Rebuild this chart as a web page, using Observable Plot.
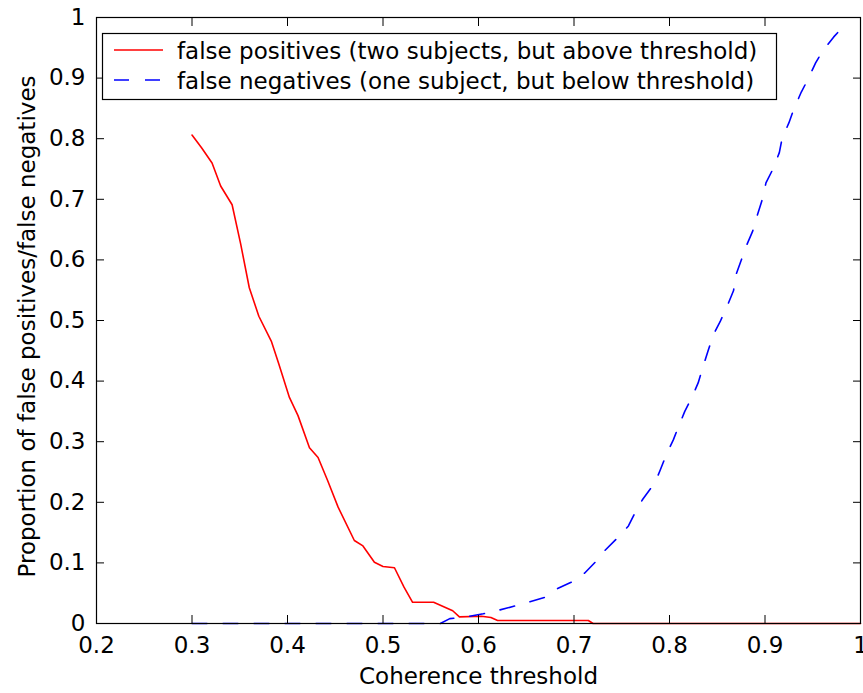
<!DOCTYPE html>
<html>
<head>
<meta charset="utf-8">
<script src="https://cdn.jsdelivr.net/npm/d3@7"></script>
<script src="https://cdn.jsdelivr.net/npm/@observablehq/plot@0.6"></script>
<style>
  html, body { margin: 0; padding: 0; background: #fff; }
  #chart { position: relative; width: 863px; height: 693px; }
</style>
</head>
<body>
<div id="chart"></div>
<script>
// Data
const fpX = [0.300,0.310,0.321,0.330,0.342,0.351,0.360,0.370,0.383,0.391,0.402,0.411,0.423,0.432,0.442,0.453,0.470,0.479,0.491,0.500,0.512,0.522,0.531,0.553,0.573,0.580,0.603,0.613,0.620,0.715,0.720,1.000];
const fpY = [0.806,0.785,0.760,0.722,0.691,0.626,0.554,0.507,0.466,0.428,0.373,0.343,0.290,0.274,0.236,0.192,0.137,0.128,0.101,0.094,0.092,0.060,0.035,0.035,0.021,0.011,0.012,0.010,0.005,0.005,0.000,0.000];
const fnX = [0.300,0.560,0.570,0.587,0.605,0.619,0.636,0.652,0.669,0.682,0.697,0.711,0.724,0.732,0.746,0.757,0.765,0.772,0.785,0.790,0.797,0.804,0.810,0.816,0.824,0.830,0.836,0.840,0.846,0.853,0.861,0.867,0.870,0.875,0.881,0.887,0.892,0.897,0.901,0.908,0.915,0.918,0.925,0.930,0.938,0.944,0.953,0.960,0.972,0.983];
const fnY = [0,0,0.008,0.011,0.016,0.021,0.028,0.035,0.043,0.057,0.068,0.083,0.104,0.120,0.142,0.161,0.186,0.205,0.233,0.252,0.280,0.303,0.327,0.350,0.375,0.397,0.428,0.448,0.477,0.498,0.526,0.549,0.577,0.599,0.625,0.647,0.674,0.699,0.727,0.749,0.777,0.801,0.826,0.848,0.877,0.895,0.925,0.944,0.968,0.987];
const xTicks = [0.2,0.3,0.4,0.5,0.6,0.7,0.8,0.9,1];
const yTicks = [0,0.1,0.2,0.3,0.4,0.5,0.6,0.7,0.8,0.9,1];
const seriesNames = ["false positives (two subjects, but above threshold)", "false negatives (one subject, but below threshold)"];
const xLabel = "Coherence threshold";
const yLabel = "Proportion of false positives/false negatives";

const fp = fpX.map((x, i) => ({x, y: fpY[i]}));
const fn = fnX.map((x, i) => ({x, y: fnY[i]}));
const fmt = d => String(d);
const dash = "15,16";

const plot = Plot.plot({
  width: 863,
  height: 693,
  marginLeft: 96,
  marginRight: 3,
  marginTop: 17,
  marginBottom: 70,
  style: {fontFamily: "'DejaVu Sans', sans-serif", fontSize: "23px", background: "#fff", color: "#000"},
  x: {domain: [0.2, 1]},
  y: {domain: [0, 1]},
  marks: [
    Plot.line(fp, {x: "x", y: "y", stroke: "#ff0000", strokeWidth: 1.6}),
    Plot.line(fn, {x: "x", y: "y", stroke: "#0000ff", strokeWidth: 1.6, strokeDasharray: dash}),
    Plot.frame({stroke: "#000", strokeWidth: 1.2}),
    // labels
    Plot.axisX({anchor: "bottom", ticks: xTicks, tickSize: 0, tickPadding: 13, tickFormat: fmt, label: null}),
    Plot.axisY({anchor: "left", ticks: yTicks, tickSize: 0, tickPadding: 11, tickFormat: fmt, label: null}),
    // inward ticks on all four sides
    Plot.axisX({anchor: "bottom", ticks: xTicks, tickSize: 8, dy: -8, tickFormat: () => "", label: null}),
    Plot.axisX({anchor: "top", ticks: xTicks, tickSize: 8, dy: 8, tickFormat: () => "", label: null}),
    Plot.axisY({anchor: "left", ticks: yTicks, tickSize: 8, dx: 8, tickFormat: () => "", label: null}),
    Plot.axisY({anchor: "right", ticks: yTicks, tickSize: 8, dx: -8, tickFormat: () => "", label: null}),
    Plot.text([xLabel], {frameAnchor: "bottom", dy: 60, text: d => d, fill: "#000", fontSize: 23, textAnchor: "middle"}),
    Plot.text([yLabel], {frameAnchor: "left", rotate: -90, dx: -69, dy: 6, text: d => d, fill: "#000", fontSize: 23, textAnchor: "middle"})
  ]
});

document.getElementById("chart").appendChild(plot);

// Legend box inside the axes (top-left)
const svg = d3.select(plot);
const lg = svg.append("g").attr("font-family", "'DejaVu Sans', sans-serif").attr("font-size", 23).attr("text-anchor", "start");
lg.append("rect").attr("x", 102.5).attr("y", 33.5).attr("width", 674).attr("height", 66)
  .attr("fill", "#fff").attr("stroke", "#000").attr("stroke-width", 1.2);
const colors = ["#ff0000", "#0000ff"];
const dashes = [null, dash];
seriesNames.forEach((name, i) => {
  const yy = 50 + i * 30;
  const ln = lg.append("line").attr("x1", 114).attr("x2", 163).attr("y1", yy).attr("y2", yy)
    .attr("stroke", colors[i]).attr("stroke-width", 1.6);
  if (dashes[i]) ln.attr("stroke-dasharray", dashes[i]);
  lg.append("text").attr("x", 177).attr("y", yy + 9).attr("fill", "#000").attr("text-anchor", "start").text(name);
});
</script>
</body>
</html>
